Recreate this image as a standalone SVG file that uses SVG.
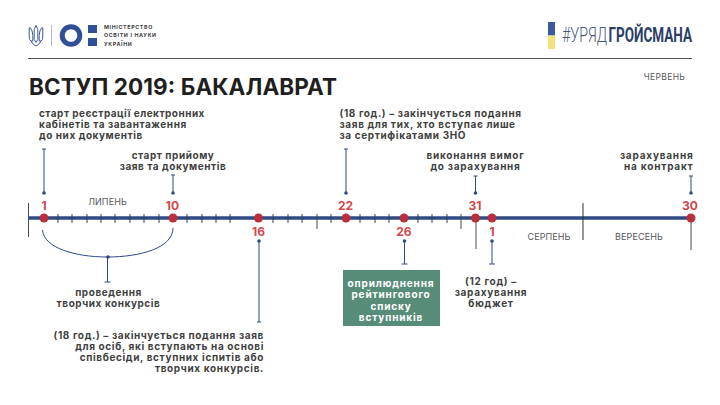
<svg xmlns="http://www.w3.org/2000/svg" width="720" height="405" viewBox="0 0 720 405">
<style>
text{font-family:"Inter","Liberation Sans",sans-serif}
.l{font-size:10px;font-weight:700;fill:#3f3f41;text-anchor:middle;letter-spacing:.55px}
.ls{text-anchor:start}.le{text-anchor:end}
.m{font-size:9px;fill:#58585a;text-anchor:middle;letter-spacing:.1px}
.n{font-size:12px;font-weight:700;fill:#d0484d;text-anchor:middle}
.k{stroke:#2f4a85;stroke-width:1;fill:none}
.g{stroke:#4a4a4c;stroke-width:1;fill:none}
.d{fill:#2f4a85}
.r{fill:#b92f3c}
.h{font-size:5.300px;font-weight:700;fill:#404042;letter-spacing:.66px}
.w{fill:#fff;letter-spacing:.85px}
.x{letter-spacing:.72px}
.z{letter-spacing:.63px}
.y{letter-spacing:.8px}
</style>
<rect width="720" height="405" fill="#fff"/>
<g id="header">
<path d="M36 25.500l1.800 4v10l-1.800 3l-1.800-3v-10zM30 27.500q2.800 3 2.800 8v5.500h-1.800q-1.800-1-1.800-4v-9zM42 27.500q-2.800 3-2.800 8v5.500h1.800q1.800-1 1.800-4v-9zM31 41q2 4 5 5q3-1 5-5" fill="none" stroke="#3c5a96" stroke-width="1"/>
<rect x="51" y="25" width="1" height="21" fill="#b9b9b9"/>
<circle cx="71" cy="35.500" r="8.800" fill="none" stroke="#2f4f96" stroke-width="5"/>
<rect x="88" y="25" width="9" height="8" fill="#2f4f96"/>
<rect x="88" y="38" width="9" height="8" fill="#2f4f96"/>
<text class="h" x="104" y="28.500">МІНІСТЕРСТВО</text>
<text class="h" x="104" y="37">ОСВІТИ І НАУКИ</text>
<text class="h" x="104" y="45.500">УКРАЇНИ</text>
<rect x="548" y="22" width="7" height="13.500" fill="#3c5aa0"/>
<rect x="548" y="35.500" width="7" height="13.500" fill="#f3e27a"/>
<text transform="translate(562 41.800) scale(.9 1)" font-size="20.500" fill="#46587a" style="font-family:Roboto,sans-serif;font-weight:300" textLength="50" lengthAdjust="spacingAndGlyphs">#УРЯД</text>
<text transform="translate(608.500 41.800) scale(.72 1)" font-size="20.500" fill="#2b3f68" font-weight="700" style="font-family:Roboto,sans-serif" textLength="116" lengthAdjust="spacingAndGlyphs">ГРОЙСМАНА</text>
<rect x="28" y="58" width="664" height="1" fill="#555"/>
<text x="29" y="94.500" font-size="22.500" font-weight="700" fill="#1f1f21" textLength="308">ВСТУП 2019: БАКАЛАВРАТ</text>
<text x="664.500" y="80" class="m" style="font-size:8.500px;letter-spacing:.35px">ЧЕРВЕНЬ</text>
</g>
<g id="connectors">
<path class="k" d="M44 193V149M173 193V175M346 193V149M475.500 193V176M691 193V176M259 241V322M404.500 241V264M492 241V264M107.500 257V282"/>
<path class="k" d="M401.500 264h6M489 264h6M104.500 282h6M42 149h4M171 175h4M344 149h4M473.500 176h4M689 176h4M257 322h4"/>
<path class="k" d="M42.500 230C44 248 75 257 107.500 257C140 257 173 248 173 228"/>
<path d="M28.500 203V237" class="g"/>
<path d="M28 218H691" stroke="#2f4a85" stroke-width="3.600" fill="none"/>
<path stroke="#2f3f60" fill="none" d="M58 214v9M72 214v9M87 214v9M101 214v9M115 214v9M130 214v9M144 214v9M159 214v9M187 214v9M202 214v9M216 214v9M230 214v9M273 214v9M288 214v9M302 214v9M331 214v9M360 214v9M375 214v9M389 214v9M418 214v9M432 214v9M447 214v9"/>
<path class="g" d="M317 214v15M461 214v15M476 218v31M691 218v32"/>
<path d="M583 203v37" stroke="#333" fill="none"/>
<g class="d"><circle cx="44" cy="193" r="1.800"/><circle cx="173" cy="193" r="1.800"/><circle cx="346" cy="193" r="1.800"/><circle cx="475.500" cy="193" r="1.800"/><circle cx="691" cy="193" r="1.800"/><circle cx="259" cy="241" r="1.800"/><circle cx="404.500" cy="241" r="1.800"/><circle cx="492" cy="241" r="1.800"/><circle cx="108" cy="257" r="1.800"/></g>
</g>
<g id="d1"><circle class="r" cx="44" cy="218" r="4.500"/><text class="n" x="44" y="210">1</text></g>
<g id="d10"><circle class="r" cx="173" cy="218" r="4.500"/><text class="n" x="172.500" y="210">10</text></g>
<g id="d16"><circle class="r" cx="258.500" cy="218" r="4.500"/><text class="n" x="258.500" y="236">16</text></g>
<g id="d22"><circle class="r" cx="346" cy="218" r="4.500"/><text class="n" x="345.500" y="210">22</text></g>
<g id="d26"><circle class="r" cx="404" cy="218" r="4.500"/><text class="n" x="404" y="236">26</text></g>
<g id="d31"><circle class="r" cx="475.500" cy="218" r="4.500"/><text class="n" x="475" y="210">31</text></g>
<g id="da1"><circle class="r" cx="492" cy="218" r="4.500"/><text class="n" x="492" y="236">1</text></g>
<g id="ds30"><circle class="r" cx="691" cy="218" r="4.500"/><text class="n" x="690" y="210">30</text></g>
<g id="months">
<text class="m" x="107.500" y="205">ЛИПЕНЬ</text>
<text class="m" x="549" y="240">СЕРПЕНЬ</text>
<text class="m" x="639" y="240">ВЕРЕСЕНЬ</text>
</g>
<g id="t1"><text class="l ls" x="39" y="116.700" style="letter-spacing:.48px">старт реєстрації електронних</text><text class="l ls" x="39" y="127.700">кабінетів та завантаження</text><text class="l ls" x="39" y="139">до них документів</text></g>
<g id="t2"><text class="l" x="173" y="159">старт прийому</text><text class="l" x="173" y="170">заяв та документів</text></g>
<g id="t3"><text class="l ls" x="339.500" y="117" style="letter-spacing:.62px">(18 год.) – закінчується подання</text><text class="l ls" x="339.500" y="128" style="letter-spacing:.62px">заяв для тих, хто вступає лише</text><text class="l ls" x="339.500" y="139" style="letter-spacing:.62px">за сертифікатами ЗНО</text></g>
<g id="t4"><text class="l x" x="475.500" y="159">виконання вимог</text><text class="l x" x="475.500" y="170">до зарахування</text></g>
<g id="t5"><text class="l le y" x="693.500" y="159">зарахування</text><text class="l le y" x="693.500" y="170">на контракт</text></g>
<g id="t6"><text class="l" x="108.500" y="295.500">проведення</text><text class="l" x="108.500" y="307">творчих конкурсів</text></g>
<g id="t7"><text class="l le z" x="264" y="339.300">(18 год.) – закінчується подання заяв</text><text class="l le z" x="264" y="350.300">для осіб, які вступають на основі</text><text class="l le z" x="264" y="361.300">співбесіди, вступних іспитів або</text><text class="l le z" x="264" y="372">творчих конкурсів.</text></g>
<g id="box"><rect x="343" y="270" width="97" height="56" fill="#578d78"/>
<text class="l w" style="fill:#fff" x="391" y="287">оприлюднення</text><text class="l w" style="fill:#fff" x="391" y="298">рейтингового</text><text class="l w" style="fill:#fff" x="391" y="309.500">списку</text><text class="l w" style="fill:#fff" x="391" y="320.500">вступників</text></g>
<g id="t8"><text class="l x" x="491" y="285">(12 год) –</text><text class="l x" x="491" y="296">зарахування</text><text class="l x" x="491" y="307">бюджет</text></g>
</svg>
